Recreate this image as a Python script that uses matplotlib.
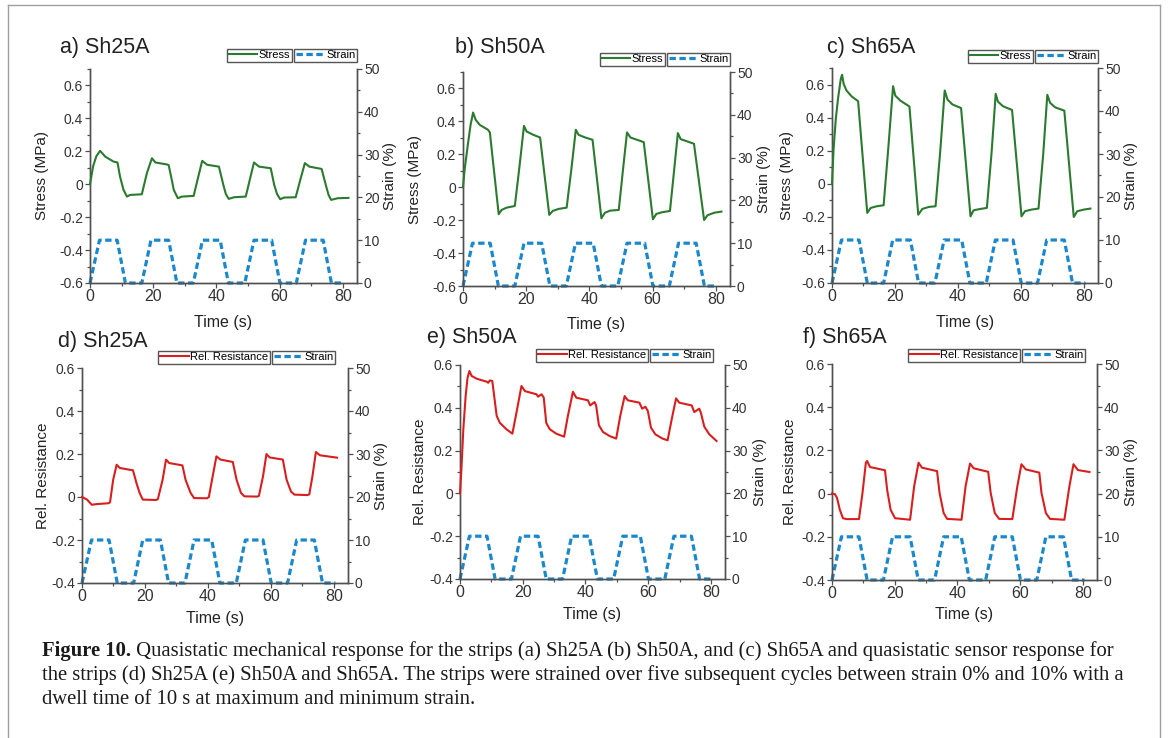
import matplotlib
matplotlib.use("Agg")
import matplotlib.pyplot as plt
from matplotlib.lines import Line2D
from matplotlib.ticker import MultipleLocator, FuncFormatter

W, H = 1170, 738

# Applied strain programme (%), same for every strip
strain_t = [0, 3.0, 8.6, 11.2, 16.4, 19.3, 24.9, 27.5, 32.7, 35.6, 41.2, 43.8,
            49.0, 51.9, 57.5, 60.1, 65.3, 68.2, 73.8, 76.4, 80.5]
strain_v = [0, 10, 10, 0, 0, 10, 10, 0, 0, 10, 10, 0,
            0, 10, 10, 0, 0, 10, 10, 0, 0]

# a) Sh25A stress (MPa)
stress_a_t = [0, 1.0, 2.0, 3.2, 4.8, 7.4, 8.7, 9.5, 10.6, 11.7, 12.7,
              16.4, 18.0, 19.6, 20.7, 24.4, 24.9, 26.0, 26.5, 27.8, 29.1,
              32.8, 34.2, 35.5, 37.1, 40.8, 42.2, 43.0, 43.9, 45.6,
              49.3, 50.6, 51.9, 53.5, 57.2, 58.3, 59.2, 60.2, 61.4,
              65.1, 66.6, 68.0, 69.4, 73.3, 74.7, 75.5, 76.3, 78.4, 81.8]
stress_a_v = [0, 0.11, 0.17, 0.203, 0.168, 0.138, 0.132, 0.047, -0.034, -0.075, -0.065,
              -0.061, 0.067, 0.158, 0.132, 0.12, 0.116, 0.016, -0.034, -0.085, -0.075,
              -0.071, 0.04, 0.142, 0.118, 0.107, -0.004, -0.06, -0.089, -0.079,
              -0.075, 0.03, 0.132, 0.107, 0.097, -0.004, -0.06, -0.091, -0.081,
              -0.079, 0.03, 0.128, 0.107, 0.093, -0.01, -0.065, -0.095, -0.085, -0.083]

# b) Sh50A stress (MPa)
stress_b_t = [0, 0.5, 1.6, 2.4, 3.2, 4.0, 5.3, 7.9, 8.5, 11.3, 12.2, 13.8, 16.4,
              17.9, 19.3, 20.1, 22.3, 24.4, 27.3, 28.4, 30.2, 32.8,
              34.3, 35.7, 36.6, 38.7, 41.0, 43.8, 44.9, 46.6, 49.3,
              50.6, 51.9, 53.0, 55.1, 57.2, 60.1, 61.2, 63.0, 65.5,
              66.8, 68.0, 68.9, 71.0, 73.1, 76.3, 77.4, 79.5, 81.8]
stress_b_v = [0, 0.105, 0.268, 0.379, 0.454, 0.41, 0.379, 0.349, 0.333, -0.164, -0.138, -0.124, -0.114,
              0.13, 0.373, 0.339, 0.318, 0.302, -0.168, -0.144, -0.132, -0.124,
              0.11, 0.349, 0.318, 0.302, 0.288, -0.189, -0.155, -0.142, -0.138,
              0.1, 0.333, 0.302, 0.288, 0.274, -0.195, -0.162, -0.152, -0.144,
              0.1, 0.329, 0.292, 0.278, 0.264, -0.199, -0.17, -0.155, -0.148]

# c) Sh65A stress (MPa)
stress_c_t = [0, 0.5, 1.2, 1.9, 2.8, 3.2, 3.7, 4.6, 6.2, 8.3, 11.2, 12.3, 14.2, 16.4,
              17.9, 19.4, 20.1, 21.7, 24.6, 27.4, 28.7, 30.8, 32.9,
              34.4, 35.8, 36.7, 38.3, 41.0, 44.0, 45.0, 47.2, 49.2,
              50.7, 52.0, 52.7, 54.3, 57.2, 60.2, 61.3, 63.4, 65.6,
              67.1, 68.4, 69.3, 70.9, 73.8, 76.8, 77.9, 80.0, 82.1]
stress_c_v = [0, 0.209, 0.391, 0.513, 0.635, 0.659, 0.604, 0.564, 0.529, 0.499, -0.176, -0.146, -0.136, -0.13,
              0.22, 0.59, 0.533, 0.503, 0.467, -0.187, -0.152, -0.14, -0.136,
              0.2, 0.564, 0.509, 0.479, 0.458, -0.197, -0.16, -0.152, -0.146,
              0.19, 0.544, 0.497, 0.469, 0.446, -0.197, -0.166, -0.156, -0.15,
              0.18, 0.538, 0.489, 0.462, 0.442, -0.201, -0.166, -0.156, -0.15]

# d) Sh25A relative resistance
res_d_t = [0, 1.6, 3.1, 4.7, 8.4, 8.9, 9.9, 11.0, 12.0, 16.2, 17.3, 18.3, 19.3, 23.5,
           24.1, 25.6, 26.7, 27.7, 31.9, 32.9, 34.5, 35.6, 39.7,
           40.3, 41.3, 42.7, 44.0, 47.9, 49.1, 50.5, 51.6, 55.7,
           56.2, 57.5, 58.6, 59.6, 63.8, 65.0, 66.4, 67.5, 71.6,
           72.2, 73.2, 74.3, 75.6, 81.0]
res_d_v = [0, -0.012, -0.036, -0.033, -0.029, -0.025, 0.08, 0.15, 0.135, 0.124, 0.065, 0.019, -0.012, -0.014,
           -0.01, 0.08, 0.174, 0.158, 0.147, 0.08, 0.019, -0.005, -0.006,
           0.0, 0.08, 0.189, 0.174, 0.163, 0.08, 0.019, 0.003, 0.002,
           0.005, 0.096, 0.2, 0.184, 0.174, 0.08, 0.025, 0.011, 0.009,
           0.012, 0.096, 0.209, 0.194, 0.183]

# e) Sh50A relative resistance
res_e_t = [0, 0.5, 1.06, 1.8, 2.4, 3.0, 3.7, 5.3, 8.5, 9.0, 9.5, 10.3, 10.9, 11.7, 12.7, 14.8, 16.7,
           18.0, 19.6, 20.7, 24.4, 24.9, 26.0, 26.7, 27.5, 28.6, 30.7, 33.2,
           34.4, 36.0, 37.1, 40.8, 41.5, 42.9, 43.4, 44.3, 45.6, 47.7, 49.8,
           51.1, 52.5, 53.5, 57.2, 58.1, 59.1, 59.9, 60.9, 62.3, 64.6, 66.2,
           67.5, 68.9, 69.9, 73.9, 74.7, 76.3, 76.8, 77.9, 79.5, 81.8]
res_e_v = [0, 0.128, 0.3, 0.455, 0.54, 0.572, 0.549, 0.536, 0.522, 0.517, 0.528, 0.525, 0.455, 0.362, 0.33, 0.3, 0.279,
           0.377, 0.502, 0.478, 0.463, 0.452, 0.463, 0.448, 0.33, 0.3, 0.279, 0.265,
           0.362, 0.475, 0.447, 0.435, 0.411, 0.427, 0.411, 0.318, 0.287, 0.268, 0.256,
           0.362, 0.455, 0.435, 0.424, 0.396, 0.405, 0.385, 0.307, 0.276, 0.256, 0.248,
           0.346, 0.444, 0.424, 0.411, 0.38, 0.396, 0.377, 0.312, 0.276, 0.245]

# f) Sh65A relative resistance
res_f_t = [0, 0.9, 1.6, 2.5, 3.5, 4.6, 8.6, 9.7, 10.8, 11.2, 12.1, 16.9, 17.6, 18.7, 20.1, 24.9,
           26.2, 27.6, 28.7, 33.5, 34.3, 35.6, 36.7, 41.3,
           42.6, 44.0, 45.2, 49.8, 50.6, 51.9, 53.3, 57.5,
           59.1, 60.4, 61.8, 66.1, 66.8, 68.2, 69.5, 74.1,
           75.7, 77.0, 78.4, 82.1]
res_f_v = [0, -0.002, -0.02, -0.075, -0.114, -0.118, -0.118, 0, 0.143, 0.151, 0.123, 0.108, 0.016, -0.075, -0.114, -0.121,
           0.034, 0.143, 0.12, 0.104, 0.003, -0.09, -0.117, -0.121,
           0.034, 0.139, 0.117, 0.101, 0.003, -0.09, -0.117, -0.118,
           0.034, 0.136, 0.112, 0.097, 0.003, -0.09, -0.117, -0.121,
           0.034, 0.136, 0.109, 0.1]

titles = ["a) Sh25A", "b) Sh50A", "c) Sh65A", "d) Sh25A", "e) Sh50A", "f) Sh65A"]
caption_bold = "Figure 10."
caption_lines = [
    " Quasistatic mechanical response for the strips (a) Sh25A (b) Sh50A, and (c) Sh65A and quasistatic sensor response for",
    "the strips (d) Sh25A (e) Sh50A and Sh65A. The strips were strained over five subsequent cycles between strain 0% and 10% with a",
    "dwell time of 10 s at maximum and minimum strain.",
]

GREEN = "#2b7a2f"
RED = "#d81f1f"
BLUE = "#1c88cc"
AXC = "#505050"

# layout in reference pixels: axes (left, top, right, bottom), legend split x / bottom y,
# title (x, y), left label x, right label x, xlabel y
layout = [
    dict(ax=(90, 69, 357, 283), leg=(293, 62), title=(60, 47), yl=42, yr=390, xl=323),
    dict(ax=(463, 72, 730, 286), leg=(666, 66), title=(455, 47), yl=415, yr=764, xl=325),
    dict(ax=(832, 68, 1098, 283), leg=(1034, 63), title=(827, 47), yl=787, yr=1131, xl=322),
    dict(ax=(82, 368, 348, 583), leg=(271, 364), title=(58, 342), yl=43, yr=381, xl=618),
    dict(ax=(460, 365, 725, 579), leg=(649, 362), title=(427, 337), yl=420, yr=760, xl=615),
    dict(ax=(832, 364, 1097, 580), leg=(1021, 362), title=(803, 337), yl=790, yr=1131, xl=615),
]

series = [
    (stress_a_t, stress_a_v, GREEN, "Stress", "Stress (MPa)", (-0.6, 0.7)),
    (stress_b_t, stress_b_v, GREEN, "Stress", "Stress (MPa)", (-0.6, 0.7)),
    (stress_c_t, stress_c_v, GREEN, "Stress", "Stress (MPa)", (-0.6, 0.7)),
    (res_d_t, res_d_v, RED, "Rel. Resistance", "Rel. Resistance", (-0.4, 0.6)),
    (res_e_t, res_e_v, RED, "Rel. Resistance", "Rel. Resistance", (-0.4, 0.6)),
    (res_f_t, res_f_v, RED, "Rel. Resistance", "Rel. Resistance", (-0.4, 0.6)),
]

plt.rcParams["font.family"] = ["Liberation Sans", "DejaVu Sans"]


def fx(px):
    return px / W


def fy(py):
    return 1 - py / H


def fmt(v, pos):
    return f"{round(v, 2) + 0.0:g}"


def style_axis(a):
    for side in ("left", "right", "bottom"):
        a.spines[side].set_color(AXC)
        a.spines[side].set_linewidth(1.0)
    a.spines["top"].set_visible(False)
    a.tick_params(which="both", direction="out", colors=AXC, labelcolor="#333333", labelsize=10, width=0.9)
    a.tick_params(which="major", length=3.5, pad=1.5)
    a.tick_params(which="minor", length=2)


fig = plt.figure(figsize=(W / 100, H / 100), dpi=100)

for (t, v, color, leg_label, ylab, ylim), lay, title in zip(series, layout, titles):
    l, tp, r, b = lay["ax"]
    ax = fig.add_axes([fx(l), fy(b), (r - l) / W, (b - tp) / H])
    ax2 = ax.twinx()
    ax.set_zorder(ax2.get_zorder() + 1)
    ax.patch.set_visible(False)

    main_line, = ax.plot(t, v, color=color, lw=1.5, label=leg_label, clip_on=False, zorder=3)
    strain_line, = ax2.plot(strain_t, strain_v, color=BLUE, lw=2.3, ls=(0, (2.0, 1.1)),
                            label="Strain", clip_on=False)

    ax.set_xlim(0, 84.5)
    ax.set_ylim(*ylim)
    ax2.set_ylim(0, 50)
    ax.xaxis.set_major_locator(MultipleLocator(20))
    ax.xaxis.set_minor_locator(MultipleLocator(10))
    ax.yaxis.set_major_locator(MultipleLocator(0.2))
    ax.yaxis.set_minor_locator(MultipleLocator(0.1))
    ax.yaxis.set_major_formatter(FuncFormatter(fmt))
    ax2.yaxis.set_major_locator(MultipleLocator(10))
    ax2.yaxis.set_minor_locator(MultipleLocator(5))
    style_axis(ax)
    style_axis(ax2)
    ax.tick_params(axis="x", labelsize=11.5, pad=1)

    # separate framed legends, side by side above the plot
    sx, sy = lay["leg"]
    leg_kw = dict(fontsize=8, handlelength=2.6, handletextpad=0.15, borderpad=0.15,
                  borderaxespad=0, fancybox=False, framealpha=1, edgecolor="#555555",
                  bbox_transform=fig.transFigure)
    lg1 = ax.legend(handles=[main_line], loc="lower right",
                    bbox_to_anchor=(fx(sx - 1), fy(sy)), **leg_kw)
    lg1.get_frame().set_linewidth(1.0)
    lg2 = ax2.legend(handles=[strain_line], loc="lower left",
                     bbox_to_anchor=(fx(sx + 1), fy(sy)), **leg_kw)
    lg2.get_frame().set_linewidth(1.0)

    ymid = fy((tp + b) / 2)
    fig.text(fx(lay["yl"]), ymid, ylab, rotation=90, ha="center", va="center", fontsize=11, color="#222222")
    fig.text(fx(lay["yr"]), ymid, "Strain (%)", rotation=90, ha="center", va="center", fontsize=11, color="#222222")
    fig.text(fx((l + r) / 2), fy(lay["xl"]), "Time (s)", ha="center", va="center", fontsize=11.5, color="#222222")
    fig.text(fx(lay["title"][0]), fy(lay["title"][1]), title, ha="left", va="center", fontsize=15.5, color="#222222")

# page frame
for xs, ys in [((8, 1160), (5, 5)), ((8, 8), (5, 738)), ((1160, 1160), (5, 738))]:
    fig.add_artist(Line2D([fx(x) for x in xs], [fy(y) for y in ys], color="#a0a0a0", lw=1.0))

# caption
cap_kw = dict(family=["Liberation Serif", "DejaVu Serif"], fontsize=14.9, color="#1a1a1a", va="center")
t0 = fig.text(fx(42), fy(651), caption_bold, fontweight="bold", **cap_kw)
renderer = fig.canvas.get_renderer()
bb = t0.get_window_extent(renderer)
fig.text(bb.x1 / fig.bbox.width, fy(651), caption_lines[0], **cap_kw)
fig.text(fx(42), fy(675), caption_lines[1], **cap_kw)
fig.text(fx(42), fy(699), caption_lines[2], **cap_kw)

fig.savefig("out.png", dpi=100)
